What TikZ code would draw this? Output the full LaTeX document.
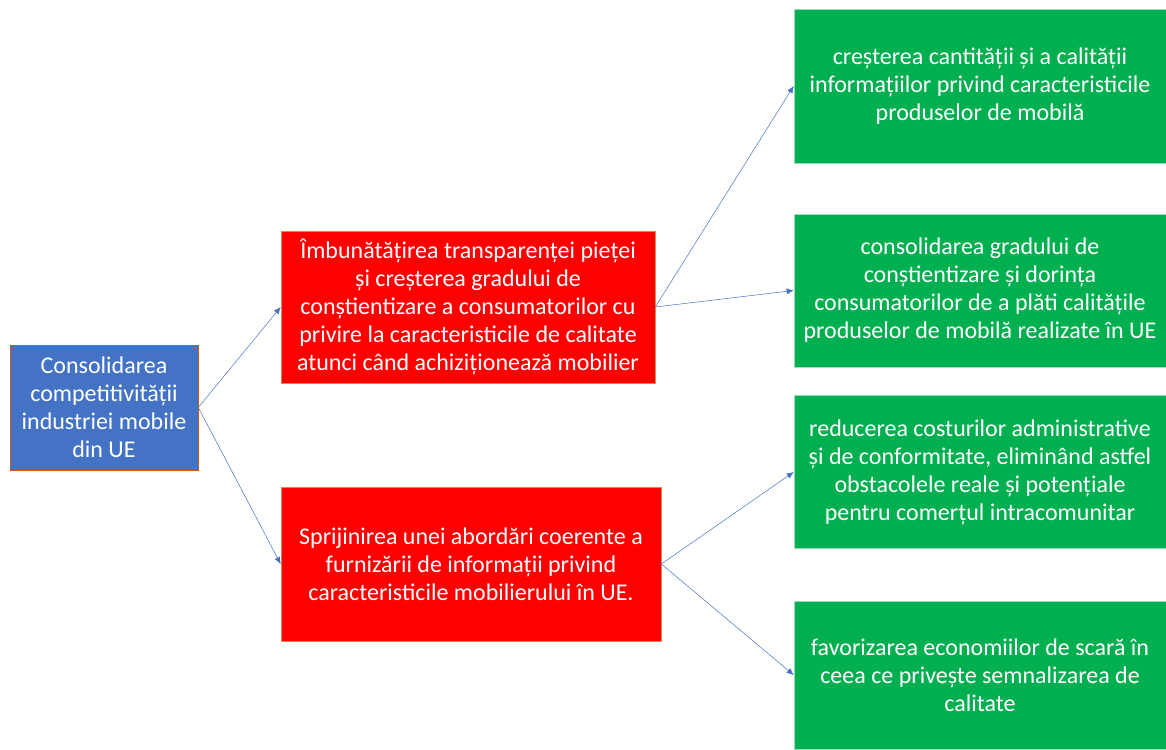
\documentclass[tikz,border=0pt]{standalone}
\usepackage{fontspec}
\setmainfont{Carlito}
\usetikzlibrary{arrows.meta}
\definecolor{boxblue}{HTML}{4472C4}
\definecolor{boxred}{HTML}{FF0000}
\definecolor{boxgreen}{HTML}{00B050}
\definecolor{rimbrown}{HTML}{C55A11}
\definecolor{linkblue}{HTML}{4472C4}

\begin{document}
\begin{tikzpicture}[x=1pt,y=-1pt,
  box/.style={text=white,align=center,inner sep=0pt,
    font=\fontsize{24}{28}\selectfont},
  aimbox/.style={box,fill=boxblue,draw=rimbrown,line width=0.6pt},
  objbox/.style={box,fill=boxred,draw=rimbrown!70,line width=0.6pt},
  resbox/.style={box,fill=boxgreen,draw=boxgreen!40,line width=0.6pt},
  link/.style={draw=linkblue,line width=0.5pt,-{Latex[length=7pt,width=6pt]}}]
\useasboundingbox (0,0) rectangle (1166,749);

% general aim
\node[aimbox,minimum width=188pt,minimum height=125pt] (aim) at (104,407.5)
  {Consolidarea\\competitivității\\industriei mobile\\din UE};

% specific objectives
\node[objbox,minimum width=374pt,minimum height=152pt] (transp) at (468,307)
  {Îmbunătățirea transparenței pieței\\și creșterea gradului de\\conștientizare a consumatorilor cu\\privire la caracteristicile de calitate\\atunci când achiziționează mobilier};
\node[objbox,minimum width=380pt,minimum height=154pt] (abord) at (471,564)
  {Sprijinirea unei abordări coerente a\\furnizării de informații privind\\caracteristicile mobilierului în UE.};

% expected results
\node[resbox,minimum width=372pt,minimum height=154pt] (cant) at (980,86)
  {creșterea cantității și a calității\\informațiilor privind caracteristicile\\produselor de mobilă};
\node[resbox,minimum width=372pt,minimum height=153pt] (dorinta) at (980,290.5)
  {consolidarea gradului de\\conștientizare și dorința\\consumatorilor de a plăti calitățile\\produselor de mobilă realizate în UE};
\node[resbox,minimum width=372pt,minimum height=153pt] (costuri) at (980,472)
  {reducerea costurilor administrative\\și de conformitate, eliminând astfel\\obstacolele reale și potențiale\\pentru comerțul intracomunitar};
\node[resbox,minimum width=372pt,minimum height=148pt] (scara) at (980,675)
  {favorizarea economiilor de scară în\\ceea ce privește semnalizarea de\\calitate};

\draw[link] (aim.east) -- (transp.west);
\draw[link] (aim.east) -- (abord.west);
\draw[link] (transp.east) -- (cant.west);
\draw[link] (transp.east) -- (dorinta.west);
\draw[link] (abord.east) -- (costuri.west);
\draw[link] (abord.east) -- (scara.west);
\end{tikzpicture}
\end{document}
